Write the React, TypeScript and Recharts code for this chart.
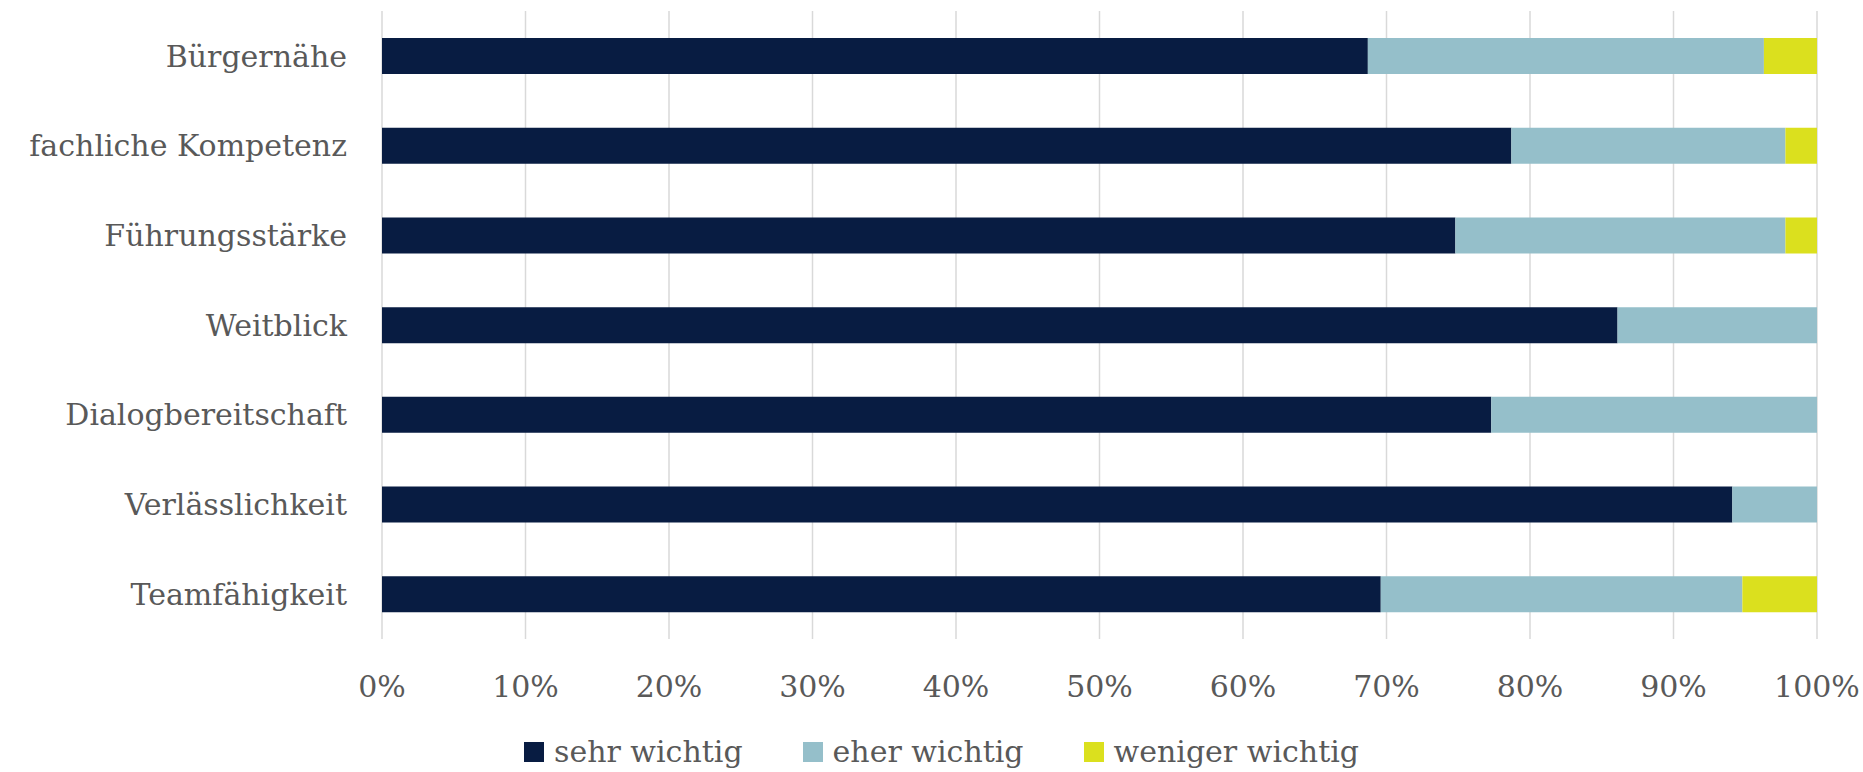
import { BarChart, Bar, XAxis, YAxis, CartesianGrid, Legend } from "recharts"

const categories = [
  "Bürgernähe",
  "fachliche Kompetenz",
  "Führungsstärke",
  "Weitblick",
  "Dialogbereitschaft",
  "Verlässlichkeit",
  "Teamfähigkeit",
]

const sehrWichtig = [68.7, 78.7, 74.8, 86.1, 77.3, 94.1, 69.6]
const eherWichtig = [27.6, 19.1, 23.0, 13.9, 22.7, 5.9, 25.2]
const wenigerWichtig = [3.7, 2.2, 2.2, 0, 0, 0, 5.2]

const xTicks = [0, 0.1, 0.2, 0.3, 0.4, 0.5, 0.6, 0.7, 0.8, 0.9, 1]

const series = [
  { key: "sehr", name: "sehr wichtig", color: "#081c42" },
  { key: "eher", name: "eher wichtig", color: "#95bfca" },
  { key: "weniger", name: "weniger wichtig", color: "#dbe01e" },
]

const data = categories.map((name, i) => ({
  name,
  sehr: sehrWichtig[i],
  eher: eherWichtig[i],
  weniger: wenigerWichtig[i],
}))

const font = "'DejaVu Serif', serif"
const textColor = "#595959"

function LegendContent(props: any) {
  const items = props.payload || []
  // keep the series order, the legend sorts its payload by name
  const ordered = series
    .map((s) => items.find((p: any) => p.dataKey === s.key || p.value === s.name))
    .filter(Boolean)
  return (
    <div style={{ display: "flex", justifyContent: "center", gap: 60, fontFamily: font, fontSize: 30, color: textColor }}>
      {ordered.map((p: any) => (
        <div key={p.value} style={{ display: "flex", alignItems: "center" }}>
          <span style={{ width: 20, height: 20, background: p.color, marginRight: 10, display: "inline-block" }} />
          <span style={{ lineHeight: "30px" }}>{p.value}</span>
        </div>
      ))}
    </div>
  )
}

export default function App() {
  return (
    <div style={{ position: "absolute", left: 0, top: 0, background: "#fff" }}>
      <BarChart
        width={1863}
        height={772}
        data={data}
        layout="vertical"
        stackOffset="expand"
        barSize={36}
        margin={{ top: 11, right: 46, left: 0, bottom: 0 }}
      >
        <CartesianGrid horizontal={false} stroke="#d9d9d9" strokeWidth={1.5} />
        <XAxis
          type="number"
          domain={[0, 1]}
          ticks={xTicks}
          tickFormatter={(v: number) => `${Math.round(v * 100)}%`}
          axisLine={false}
          tickLine={false}
          tickSize={0}
          tickMargin={37}
          height={133}
          interval={0}
          tick={{ fontSize: 30, fill: textColor, fontFamily: font }}
        />
        <YAxis
          type="category"
          dataKey="name"
          width={382}
          axisLine={false}
          tickLine={false}
          tickSize={0}
          tickMargin={35}
          interval={0}
          tick={{ fontSize: 30, fill: textColor, fontFamily: font }}
        />
        <Legend
          layout="horizontal"
          verticalAlign="middle"
          align="center"
          content={<LegendContent />}
          wrapperStyle={{ top: 737, left: 10, width: 1863 }}
        />
        {series.map((s) => (
          <Bar key={s.key} dataKey={s.key} name={s.name} stackId="a" fill={s.color} isAnimationActive={false} />
        ))}
      </BarChart>
    </div>
  )
}
